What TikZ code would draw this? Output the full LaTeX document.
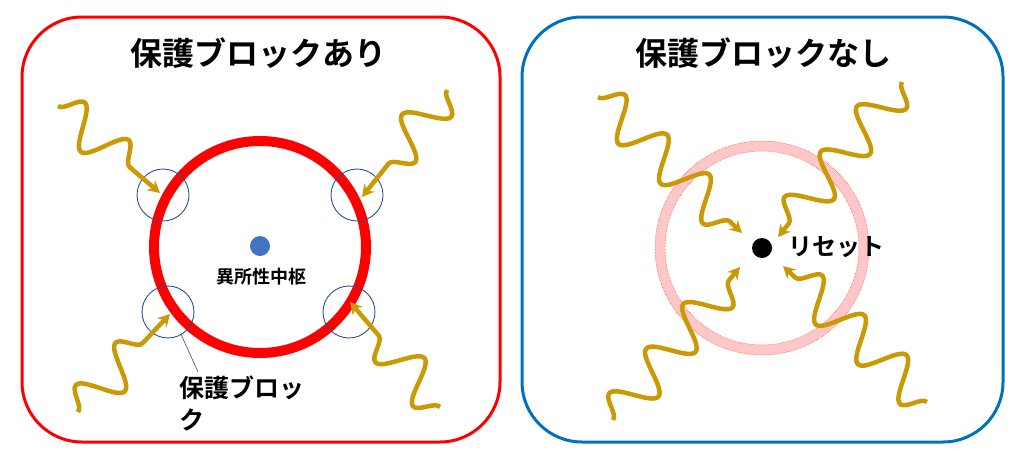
\documentclass[tikz,border=0pt]{standalone}
\usepackage{fontspec}
\newfontfamily\cjkb{Noto Sans CJK JP Bold}
\usetikzlibrary{decorations.pathmorphing,arrows.meta}
\definecolor{gold}{HTML}{C99A06}
\definecolor{bl}{HTML}{0070C0}
\definecolor{dkb}{HTML}{2F4F8F}
\definecolor{dotb}{HTML}{4472C4}
\definecolor{pinkr}{HTML}{FFC7C7}
\begin{document}
\begin{tikzpicture}[x=1pt,y=-1pt,
  wave/.style={gold,line width=4.5pt,decorate,decoration={snake,amplitude=20pt,segment length=58pt,post length=16pt},-{Stealth[length=12pt,width=13pt]}},
  guard/.style={draw=dkb,line width=0.9pt,circle,minimum size=52pt,inner sep=0pt}]
\useasboundingbox (0,0) rectangle (1024,458);
\node[draw=red,line width=3pt,rounded corners=60pt,minimum width=478pt,minimum height=425pt] (lp) at (261,229.5) {};
\node[draw=bl,line width=3pt,rounded corners=60pt,minimum width=481pt,minimum height=425pt] (rp) at (762.5,229.5) {};
\node[font=\cjkb\fontsize{32}{34}\selectfont] (lt) at (258,53) {保護ブロックあり};
\node[font=\cjkb\fontsize{32}{34}\selectfont] (rt) at (763,53) {保護ブロックなし};
% left
\node[draw=red,line width=10pt,circle,minimum size=212pt,inner sep=0pt] (ring) at (260,247) {};
\node[fill=dotb,circle,minimum size=20pt,inner sep=0pt] (dot) at (260,246) {};
\node[font=\cjkb\fontsize{18}{20}\selectfont] (lbl) at (261,277) {異所性中枢};
\node[guard] (g1) at (163,195) {};
\node[guard] (g2) at (357,195) {};
\node[guard] (g3) at (168,312) {};
\node[guard] (g4) at (349,312) {};
\node[font=\cjkb\fontsize{25}{32}\selectfont,align=left,anchor=north west] (gl) at (176,372) {保護ブロッ\\ク};
\coordinate (gle) at (198,372);
\draw[dkb,line width=0.6pt] (g3.300) -- (gle);
\coordinate (a1) at (58,106); \coordinate (b1) at (160,193);
\coordinate (a2) at (447,90); \coordinate (b2) at (362,197);
\coordinate (a3) at (78,412); \coordinate (b3) at (170,314);
\coordinate (a4) at (440,407); \coordinate (b4) at (350,302);
\draw[wave] (a1) -- (b1);
\draw[wave] (a2) -- (b2);
\draw[wave] (a3) -- (b3);
\draw[wave] (a4) -- (b4);
% right
\node[draw=pinkr,line width=10pt,circle,minimum size=204pt,inner sep=0pt] (pr) at (762,248) {};
\draw[red!80,densely dotted,line width=0.5pt] (762,248) circle (107) (762,248) circle (97);
\node[fill=black,circle,minimum size=20pt,inner sep=0pt] (rd) at (762,248) {};
\node[font=\cjkb\fontsize{24}{26}\selectfont,anchor=west] (rs) at (785,247) {リセット};
\coordinate (c1) at (598,97); \coordinate (d1) at (742,233);
\coordinate (c2) at (902,82); \coordinate (d2) at (778,237);
\coordinate (c3) at (613,420); \coordinate (d3) at (740,267);
\coordinate (c4) at (927,402); \coordinate (d4) at (783,266);
\draw[wave] (c1) -- (d1);
\draw[wave] (c2) -- (d2);
\draw[wave] (c3) -- (d3);
\draw[wave] (c4) -- (d4);
\end{tikzpicture}
\end{document}
